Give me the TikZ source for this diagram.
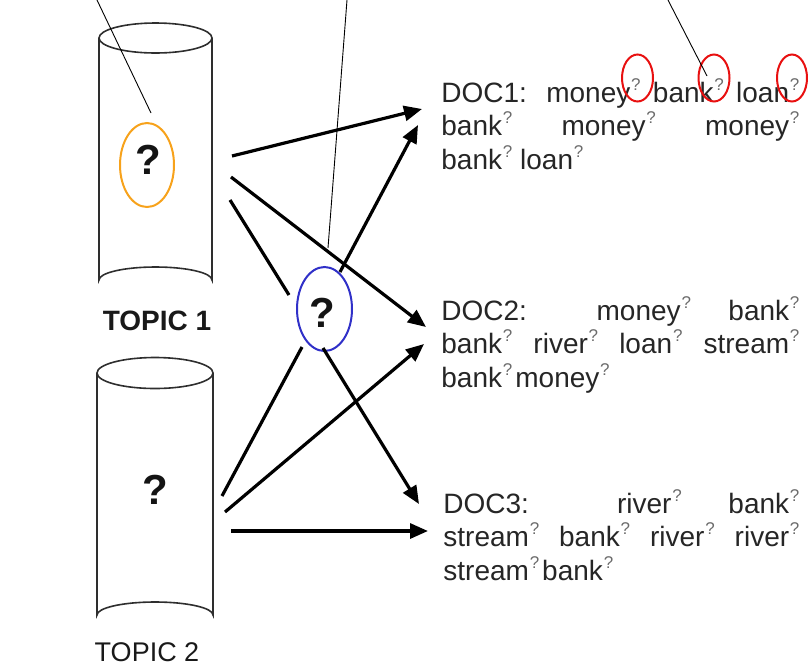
\documentclass[tikz,border=0pt]{standalone}
\usepackage{fontspec}
\setmainfont{Liberation Sans}
\usetikzlibrary{arrows.meta}
\newcommand\supq{\kern0.4pt\raisebox{6pt}{\fontsize{8.5}{9}\selectfont\color{black!58}?}}
\definecolor{qorange}{HTML}{F7A21B}
\definecolor{qblue}{HTML}{3030C8}
\definecolor{qred}{HTML}{E81010}
\definecolor{cylgray}{HTML}{2E2E2E}
\tikzset{
  cyl/.style={draw=cylgray, line width=0.8pt},
  conn/.style={line width=1.6pt, black},
  arr/.style={conn, -{Triangle[length=9pt,width=7.5pt]}},
  pointer/.style={line width=0.45pt, black},
  bigq/.style={font=\fontsize{21}{24}\selectfont\bfseries, inner sep=0pt, text=black!92},
  ringmark/.style={line width=1pt},
  doctext/.style={anchor=base west, inner sep=0pt, text=black!85,
    font=\fontsize{14}{16.75}\selectfont},
}
\begin{document}
\begin{tikzpicture}[x=0.5pt,y=-0.5pt]
\useasboundingbox (0,0) rectangle (808,665);
% cylinders
\draw[cyl] (155.5,38) ellipse [x radius=56.5, y radius=15];
\draw[cyl] (99,38) -- (99,280) arc[start angle=180,end angle=360,x radius=56.5,y radius=13] -- (212,38);
\draw[cyl] (155,373) ellipse [x radius=58, y radius=15.5];
\draw[cyl] (97,373) -- (97,615) arc[start angle=180,end angle=360,x radius=58,y radius=13] -- (213,373);
% labels
\node[font=\fontsize{14}{16}\selectfont\bfseries, anchor=base, text=black!90] (lab1) at (157,330) {TOPIC 1};
\node[font=\fontsize{13.5}{16}\selectfont, anchor=base, text=black!90] (lab2) at (147,661) {TOPIC 2};
% question marks
\node[bigq] (q1) at (148,160) {?};
\node[bigq] (q2) at (155,490) {?};
\node[bigq] (q3) at (322,313) {?};
\draw[qorange, ringmark] (147,165) ellipse [x radius=27, y radius=42];
\draw[qblue, ringmark] (324.5,309) ellipse [x radius=27.5, y radius=42];
% documents
\node[doctext] (doc1) at (441,102) {\begin{tabular}[t]{@{}l@{}}
\makebox[179pt][s]{DOC1: money\supq{} bank\supq{} loan\supq}\\
\makebox[179pt][s]{bank\supq{} money\supq{} money\supq}\\
bank\supq{} loan\supq
\end{tabular}};
\node[doctext] (doc2) at (441,320) {\begin{tabular}[t]{@{}l@{}}
\makebox[179pt][s]{DOC2: money\supq{} bank\supq}\\
\makebox[179pt][s]{bank\supq{} river\supq{} loan\supq{} stream\supq}\\
bank\supq\kern1.5pt money\supq
\end{tabular}};
\node[doctext] (doc3) at (443,513) {\begin{tabular}[t]{@{}l@{}}
\makebox[178pt][s]{DOC3: river\supq{} bank\supq}\\
\makebox[178pt][s]{stream\supq{} bank\supq{} river\supq{} river\supq}\\
stream\supq\kern1.5pt bank\supq
\end{tabular}};
% red marks
\draw[qred, ringmark] (637.5,78) ellipse [x radius=15.5, y radius=23.5];
\draw[qred, ringmark] (714,78) ellipse [x radius=15.5, y radius=23.5];
\draw[qred, ringmark] (792,78) ellipse [x radius=15, y radius=23.5];
% connector end points
\coordinate (a1s) at (232,156); \coordinate (a1e) at (422,109);
\coordinate (a2s) at (231,177); \coordinate (a2e) at (426,327);
\coordinate (a3s) at (230,200); \coordinate (a3e) at (289,295);
\coordinate (a4s) at (340,272); \coordinate (a4e) at (418,125);
\coordinate (a5s) at (323,348); \coordinate (a5e) at (419,504);
\coordinate (a6s) at (222,496); \coordinate (a6e) at (302,347);
\coordinate (a7s) at (225,512); \coordinate (a7e) at (424,344);
\coordinate (a8s) at (231,531); \coordinate (a8e) at (428,531);
\draw[arr] (a1s) -- (a1e);
\draw[arr] (a2s) -- (a2e);
\draw[conn] (a3s) -- (a3e);
\draw[arr] (a4s) -- (a4e);
\draw[arr] (a5s) -- (a5e);
\draw[conn] (a6s) -- (a6e);
\draw[arr] (a7s) -- (a7e);
\draw[arr] (a8s) -- (a8e);
% pointer lines
\coordinate (p1s) at (97,0); \coordinate (p1e) at (151,113);
\coordinate (p2s) at (347,0); \coordinate (p2e) at (328,248);
\coordinate (p3s) at (668,0); \coordinate (p3e) at (707,76);
\draw[pointer] (p1s) -- (p1e);
\draw[pointer] (p2s) -- (p2e);
\draw[pointer] (p3s) -- (p3e);
\end{tikzpicture}
\end{document}
